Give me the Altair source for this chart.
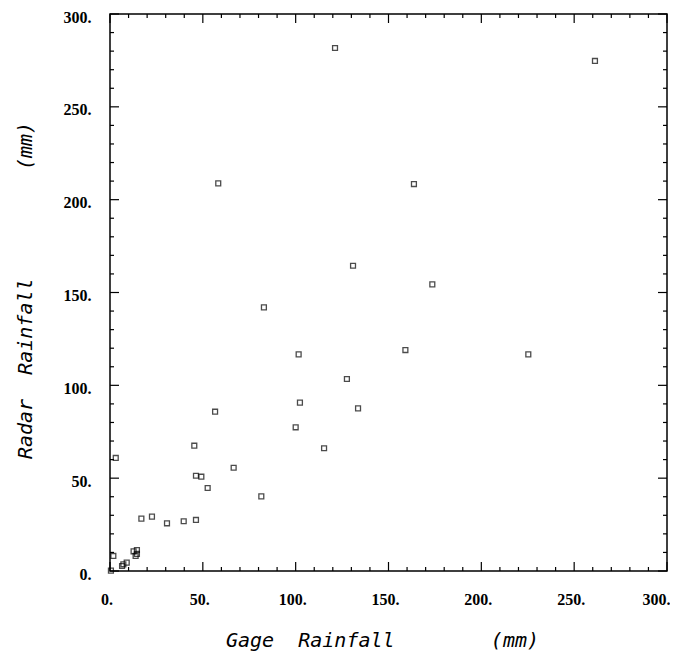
import altair as alt
import pandas as pd

# Data
gage = [0.5, 6.5, 7.2, 9.0, 13.8, 14.5, 14.5, 12.7, 1.8, 3.1, 16.9, 22.6, 30.7, 39.7,
        46.3, 52.6, 46.3, 49.2, 45.4, 56.6, 66.6, 81.5, 58.3, 82.9, 100.0, 101.6,
        102.3, 115.3, 121.2, 127.6, 130.9, 133.6, 159.1, 163.7, 173.6, 225.3, 261.2]
radar = [0.2, 2.7, 3.6, 4.5, 8.1, 9.2, 11.3, 10.6, 8.1, 60.9, 28.2, 29.3, 25.7, 26.8,
         27.5, 44.7, 51.3, 50.8, 67.5, 85.8, 55.6, 40.2, 208.8, 142.0, 77.4, 116.7,
         90.7, 66.1, 281.7, 103.4, 164.4, 87.6, 119.0, 208.4, 154.4, 116.7, 274.7]

major_ticks = [0, 50, 100, 150, 200, 250, 300]
minor_ticks = [v for v in range(0, 301, 10) if v % 50 != 0]

x_title = "Gage\u00a0\u00a0Rainfall" + "\u00a0" * 8 + "(mm)"
y_title = "Radar\u00a0\u00a0Rainfall" + "\u00a0" * 9 + "(mm)"

W = 557
H = 557

pts = pd.DataFrame({"gage": gage, "radar": radar})
maj = pd.DataFrame({"v": major_ticks})
mnr = pd.DataFrame({"v": minor_ticks})

dom = [0, 300]
xscale = alt.Scale(domain=dom, nice=False, zero=True)
yscale = alt.Scale(domain=dom, nice=False, zero=True)

label_font = "Liberation Serif"
title_font = "DejaVu Sans Mono"

x_axis = alt.Axis(
    values=major_ticks, labelExpr="datum.label + '.'", format="d",
    ticks=False, tickSize=0, domain=False, grid=False,
    labelFont=label_font, labelFontWeight="bold", labelFontSize=16, labelColor="black",
    labelPadding=20, labelFlush=False, labelOverlap=False,
    labelAlign={"condition": {"test": "datum.value == 300", "value": "right"}, "value": "center"},
    labelOffset={"condition": {"test": "datum.value == 300", "value": 3}, "value": -3.5},
    title=x_title, titleFont=title_font, titleFontStyle="italic", titleFontWeight="normal",
    titleFontSize=20, titleColor="black", titleX=272, titleY=69,
    titleAlign="center", titleBaseline="middle",
)
y_axis = alt.Axis(
    values=major_ticks, labelExpr="datum.label + '.'", format="d",
    ticks=False, tickSize=0, domain=False, grid=False,
    labelFont=label_font, labelFontWeight="bold", labelFontSize=16, labelColor="black",
    labelPadding=19, labelFlush=False, labelOverlap=False, labelOffset=3,
    title=y_title, titleFont=title_font, titleFontStyle="italic", titleFontWeight="normal",
    titleFontSize=20, titleColor="black", titleX=-85, titleY=276, titleAngle=270,
    titleAlign="center", titleBaseline="middle",
)

points = alt.Chart(pts).mark_point(
    shape="square", filled=False, color="black", strokeWidth=1.3, size=24, clip=False
).encode(
    x=alt.X("gage:Q", scale=xscale, axis=x_axis),
    y=alt.Y("radar:Q", scale=yscale, axis=y_axis),
)


def tick_layers(df, length):
    base = alt.Chart(df).mark_rule(color="black", strokeWidth=1.2)
    bottom = base.encode(x=alt.X("v:Q", axis=x_axis), y=alt.value(H), y2=alt.value(H - length))
    top = base.encode(x=alt.X("v:Q", axis=x_axis), y=alt.value(0), y2=alt.value(length))
    left = base.encode(y=alt.Y("v:Q", axis=y_axis), x=alt.value(0), x2=alt.value(length))
    right = base.encode(y=alt.Y("v:Q", axis=y_axis), x=alt.value(W), x2=alt.value(W - length))
    return [bottom, top, left, right]


layers = [points] + tick_layers(maj, 9) + tick_layers(mnr, 4)

chart = alt.layer(*layers).properties(
    width=W, height=H,
    autosize=alt.AutoSizeParams(type="none"),
    padding={"left": 102, "top": 6, "right": 3, "bottom": 80},
    background="white",
).configure_view(
    stroke="black", strokeWidth=1.5, fill="white"
)

chart.save("out.html", embed_options={"renderer": "svg", "actions": False})
